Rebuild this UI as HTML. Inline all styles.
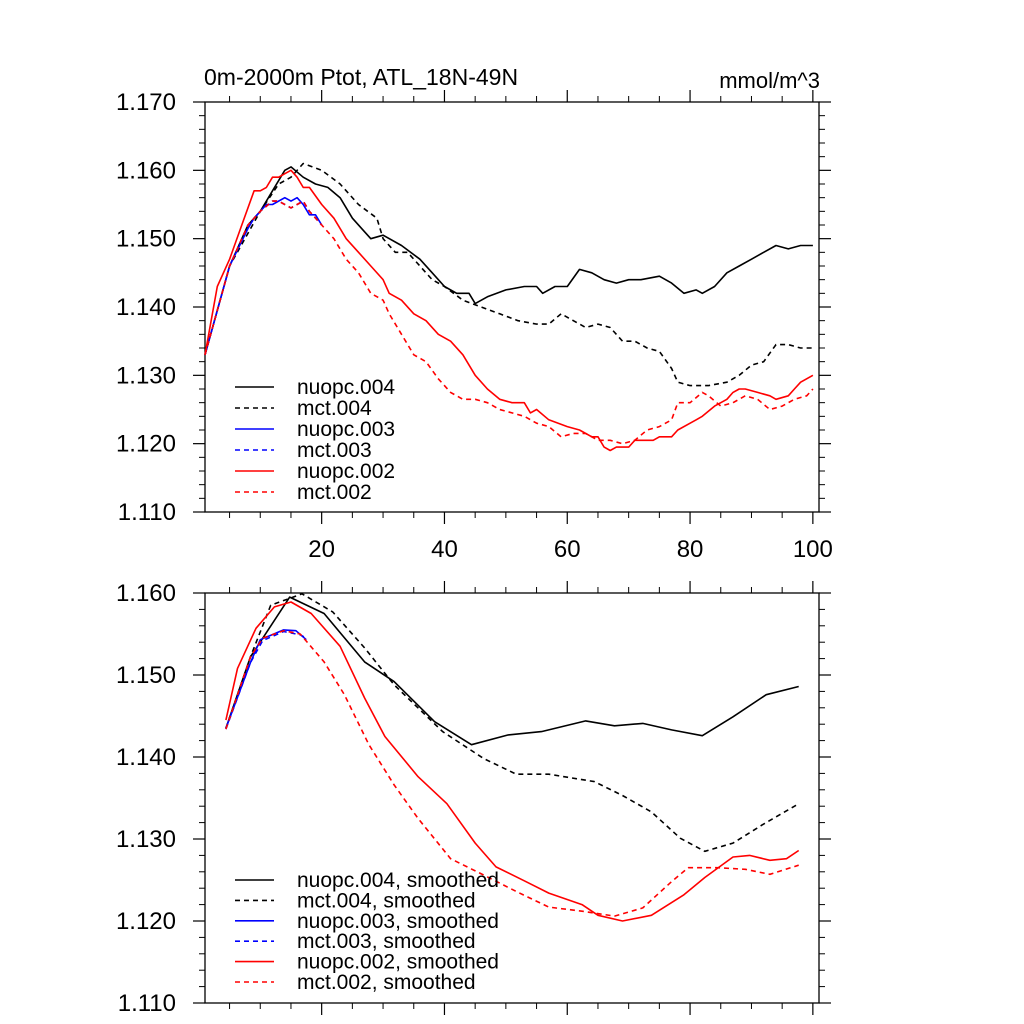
<!DOCTYPE html>
<html><head><meta charset="utf-8"><style>
body{margin:0;background:#fff;}
svg{display:block;font-family:"Liberation Sans",sans-serif;}
</style></head><body>
<svg id="chart" width="1024" height="1024" viewBox="0 0 1024 1024"></svg>
<script>
// ---- top panel data ----
const n4T=[1,5,8,10,12,14,15,17,19,21,23,25,27,28,30,33,36,38,40,42,44,45,47,50,53,55,56,58,60,62,64,66,68,70,72,75,77,79,81,82,84,86,88,90,92,94,96,98,100];
const n4V=[1.133,1.146,1.152,1.154,1.157,1.160,1.1605,1.159,1.158,1.1575,1.156,1.153,1.151,1.150,1.1505,1.149,1.147,1.145,1.143,1.142,1.142,1.1405,1.1415,1.1425,1.143,1.143,1.142,1.143,1.143,1.1455,1.145,1.144,1.1435,1.144,1.144,1.1445,1.1435,1.142,1.1425,1.142,1.143,1.145,1.146,1.147,1.148,1.149,1.1485,1.149,1.149];
const m4T=[1,5,10,13,15,17,20,23,26,29,30,32,34,36,38,40,43,46,49,52,55,57,59,61,63,65,67,69,71,73,75,77,78,80,83,86,88,90,92,94,96,98,100];
const m4V=[1.133,1.146,1.154,1.158,1.159,1.161,1.160,1.158,1.155,1.153,1.150,1.148,1.148,1.146,1.144,1.143,1.141,1.140,1.139,1.138,1.1375,1.1375,1.139,1.138,1.137,1.1375,1.137,1.135,1.135,1.134,1.1335,1.131,1.129,1.1285,1.1285,1.129,1.130,1.1315,1.132,1.1345,1.1345,1.134,1.134];
const n3T=[1,5,8,9,11,12,14,15,16,17,18,19,20];
const n3V=[1.133,1.146,1.1515,1.153,1.155,1.155,1.156,1.1555,1.156,1.155,1.1535,1.1535,1.152];
const m3T=[1,5,8,10,12,13,14,15,16,17,18,20];
const m3V=[1.133,1.146,1.152,1.154,1.1555,1.1555,1.155,1.1545,1.155,1.1555,1.154,1.152];
const n2T=[1,3,5,7,9,10,11,12,13,14,15,16,17,18,20,22,24,26,28,30,31,33,35,37,39,41,43,45,47,49,51,53,54,55,57,60,62,64,65,66,67,68,70,71,74,75,77,78,80,81,82,84,86,87,88,89,91,93,94,96,97,98,100];
const n2V=[1.133,1.143,1.147,1.152,1.157,1.157,1.1575,1.159,1.159,1.1595,1.160,1.159,1.1575,1.1575,1.155,1.153,1.150,1.148,1.146,1.144,1.142,1.141,1.139,1.138,1.136,1.135,1.133,1.130,1.128,1.1265,1.126,1.126,1.1245,1.125,1.1235,1.1225,1.122,1.121,1.121,1.1195,1.119,1.1195,1.1195,1.1205,1.1205,1.121,1.121,1.122,1.123,1.1235,1.124,1.1255,1.1265,1.1275,1.128,1.128,1.1275,1.127,1.1265,1.127,1.128,1.129,1.130];
const m2T=[1,5,8,10,12,13,14,15,16,17,18,20,22,24,26,28,30,31,33,35,37,39,41,43,45,47,49,51,53,55,57,59,61,63,65,67,69,71,73,75,77,78,80,82,83,85,87,89,91,93,95,97,99,100];
const m2V=[1.133,1.146,1.152,1.154,1.1555,1.1555,1.155,1.1545,1.155,1.1555,1.154,1.152,1.150,1.147,1.145,1.142,1.141,1.139,1.136,1.133,1.132,1.1295,1.1275,1.1265,1.1265,1.126,1.125,1.1245,1.124,1.123,1.1225,1.121,1.1215,1.1215,1.1205,1.1205,1.120,1.1205,1.122,1.1225,1.1235,1.126,1.126,1.1275,1.127,1.1255,1.126,1.127,1.1265,1.125,1.1255,1.1265,1.127,1.128];
// ---- bottom panel (smoothed) data ----
const sn4T=[4.4,8.4,14.8,20.4,27,31.8,38.4,44.4,50.4,55.8,63,67.7,72.3,77,82,87,92.4,97.7];
const sn4V=[1.1435,1.1522,1.1595,1.1575,1.1516,1.1492,1.1443,1.1415,1.1427,1.1431,1.1444,1.1438,1.1441,1.1433,1.1426,1.1449,1.1476,1.1486];
const sm4T=[4.4,8.4,11.7,16.8,21.8,27,31.8,39.7,46.4,51.7,57,64.4,69,73.7,78.4,82.4,87,91.7,97.7];
const sm4V=[1.1435,1.1522,1.1585,1.1599,1.1577,1.1533,1.1488,1.1431,1.1398,1.1379,1.1379,1.137,1.1353,1.1333,1.1301,1.1285,1.1295,1.1317,1.1343];
const sn3T=[4.4,8.4,10,13.8,15.8,17.5];
const sn3V=[1.1435,1.1515,1.1543,1.1555,1.1554,1.1543];
const sm3T=[4.4,8.4,10.4,13.8,16.5,17.5];
const sm3V=[1.1434,1.1515,1.1542,1.1553,1.1549,1.1545];
const sn2T=[4.4,6.3,9.3,12.3,15,18.3,23,27,30.3,35.7,40.4,45,48.4,53,57,62.4,65,69,73.7,79,82.4,87,89.7,93,95.7,97.7];
const sn2V=[1.1445,1.1508,1.1557,1.1583,1.1589,1.1575,1.1535,1.1472,1.1425,1.1376,1.1343,1.1295,1.1266,1.1249,1.1234,1.122,1.1207,1.120,1.1207,1.1232,1.1253,1.1278,1.128,1.1274,1.1276,1.1286];
const sm2T=[4.4,8.4,10.4,13.8,16.5,20.4,23.7,27.7,31.8,35.7,41,46.4,51.7,57,62.4,67.7,72.3,77,79.7,84.4,89,93,97.7];
const sm2V=[1.1434,1.1522,1.1545,1.1554,1.155,1.1516,1.1476,1.1415,1.1366,1.1325,1.1276,1.1256,1.1236,1.1217,1.1212,1.1206,1.1216,1.1248,1.1265,1.1265,1.1263,1.1257,1.1268];
const topYTicks=["1.110","1.120","1.130","1.140","1.150","1.160","1.170"];
const botYTicks=["1.110","1.120","1.130","1.140","1.150","1.160"];
const xTicks=[20,40,60,80,100];

const NS="http://www.w3.org/2000/svg";
const svg=document.getElementById('chart');
function mk(tag,attrs,parent){const e=document.createElementNS(NS,tag);for(const k in attrs)e.setAttribute(k,attrs[k]);(parent||svg).appendChild(e);return e;}
const X0=205,X1=819,TMIN=1,TMAX=101;
function xs(t){return X0+(t-TMIN)/(TMAX-TMIN)*(X1-X0);}
function panel(name,top,bot,vmin,vmax,yt,showX){
  const g=mk('g',{});
  
  
  const ys=v=>bot-(v-vmin)/(vmax-vmin)*(bot-top);
  const r=mk('rect',{x:X0,y:top,width:X1-X0,height:bot-top,fill:'none',stroke:'#000','stroke-width':1.3},g);
  
  for(let i=0;i<yt.length;i++){
    const v=parseFloat(yt[i]);const y=ys(v);
    mk('line',{x1:X0-12,x2:X0,y1:y,y2:y,stroke:'#000','stroke-width':1.2},g);
    mk('line',{x1:X1,x2:X1+12,y1:y,y2:y,stroke:'#000','stroke-width':1.2},g);
    const tx=mk('text',{x:176,y:y+8,'text-anchor':'end','font-size':24},g);tx.textContent=yt[i];
    
    if(i<yt.length-1){for(let k=1;k<5;k++){const ym=ys(v+k*0.002);
      mk('line',{x1:X0-6,x2:X0,y1:ym,y2:ym,stroke:'#000','stroke-width':1},g);
      mk('line',{x1:X1,x2:X1+6,y1:ym,y2:ym,stroke:'#000','stroke-width':1},g);}}
  }
  for(let t=5;t<=100;t+=5){const x=xs(t);const maj=t%20===0;const L=maj?12:6;
    mk('line',{x1:x,x2:x,y1:top-L,y2:top,stroke:'#000','stroke-width':maj?1.2:1},g);
    mk('line',{x1:x,x2:x,y1:bot,y2:bot+L,stroke:'#000','stroke-width':maj?1.2:1},g);}
  if(showX){for(const t of xTicks){const tx=mk('text',{x:xs(t),y:557,'text-anchor':'middle','font-size':24},g);tx.textContent=t;
    }}
  return {g,ys};
}
function series(p,T,V,color,dash,name){
  let d='';for(let i=0;i<T.length;i++)d+=(i?'L':'M')+xs(T[i]).toFixed(1)+','+p.ys(V[i]).toFixed(1);
  const a={d:d,fill:'none',stroke:color,'stroke-width':1.6,'stroke-linejoin':'round'};
  if(dash)a['stroke-dasharray']='5,4';
  const e=mk('path',a,p.g);
  
  
}
function legend(p,y0,dy,size,labels){
  const styles=[['#000',0],['#000',1],['#00f',0],['#00f',1],['#f00',0],['#f00',1]];
  for(let i=0;i<labels.length;i++){const y=y0+i*dy;
    const a={x1:235,x2:274,y1:y,y2:y,stroke:styles[i][0],'stroke-width':1.6};if(styles[i][1])a['stroke-dasharray']='5,4';
    const l=mk('line',a,p.g);
    const t=mk('text',{x:297,y:y+7,'font-size':size},p.g);t.textContent=labels[i];
    }
}
const P1=panel('top-panel',102,512,1.110,1.170,topYTicks,true);
series(P1,m4T,m4V,'#000',1,'mct-004-line');
series(P1,n4T,n4V,'#000',0,'nuopc-004-line');
series(P1,m3T,m3V,'#00f',1,'mct-003-line');
series(P1,n3T,n3V,'#00f',0,'nuopc-003-line');
series(P1,m2T,m2V,'#f00',1,'mct-002-line');
series(P1,n2T,n2V,'#f00',0,'nuopc-002-line');
legend(P1,387,21,21,['nuopc.004','mct.004','nuopc.003','mct.003','nuopc.002','mct.002']);
const P2=panel('bottom-panel',593,1003,1.110,1.160,botYTicks,false);
series(P2,sm4T,sm4V,'#000',1,'mct-004-smoothed-line');
series(P2,sn4T,sn4V,'#000',0,'nuopc-004-smoothed-line');
series(P2,sm3T,sm3V,'#00f',1,'mct-003-smoothed-line');
series(P2,sn3T,sn3V,'#00f',0,'nuopc-003-smoothed-line');
series(P2,sm2T,sm2V,'#f00',1,'mct-002-smoothed-line');
series(P2,sn2T,sn2V,'#f00',0,'nuopc-002-smoothed-line');
legend(P2,880,20.4,21,['nuopc.004, smoothed','mct.004, smoothed','nuopc.003, smoothed','mct.003, smoothed','nuopc.002, smoothed','mct.002, smoothed']);
const t1=mk('text',{x:204,y:85,'font-size':23});t1.textContent='0m-2000m Ptot, ATL_18N-49N';

const t2=mk('text',{x:820,y:88,'font-size':22,'text-anchor':'end'});t2.textContent='mmol/m^3';

</script>
</body></html>
